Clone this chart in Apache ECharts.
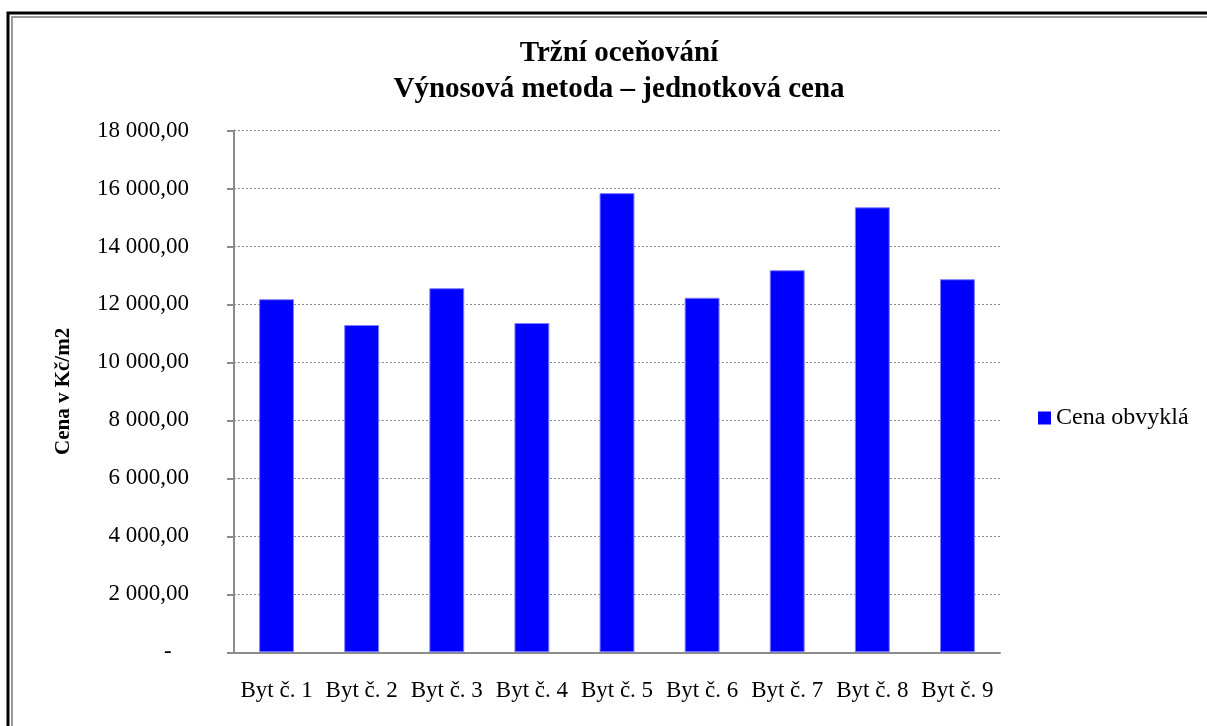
<!DOCTYPE html>
<html>
<head>
<meta charset="utf-8">
<script src="https://cdn.jsdelivr.net/npm/echarts@6/dist/echarts.min.js"></script>
<style>
html,body{margin:0;padding:0;background:#fff;}
#chart{width:1207px;height:726px;}
</style>
</head>
<body>
<div id="chart"></div>
<script>
var categories = ['Byt č. 1','Byt č. 2','Byt č. 3','Byt č. 4','Byt č. 5','Byt č. 6','Byt č. 7','Byt č. 8','Byt č. 9'];
var seriesName = 'Cena obvyklá';
var values = [12180, 11290, 12560, 11360, 15840, 12230, 13180, 15350, 12870];
var titleLines = ['Tržní oceňování', 'Výnosová metoda – jednotková cena'];
var yAxisName = 'Cena v Kč/m2';
var yMin = 0, yMax = 18000, yStep = 2000;

function fmt(v){
  if (v === 0) return '-   ';
  var s = Math.round(v).toString().replace(/\B(?=(\d{3})+(?!\d))/g, ' ');
  return s + ',00';
}

var font = 'Liberation Serif, Times New Roman, serif';
var chart = echarts.init(document.getElementById('chart'), null, {renderer:'canvas'});
chart.setOption({
  backgroundColor: '#fff',
  animation: false,
  textStyle: {fontFamily: font},
  title: {
    text: titleLines.join('\n'),
    left: 614, top: 31, textAlign: 'center',
    textStyle: {fontFamily: font, fontSize: 29, fontWeight: 'bold', color: '#000', lineHeight: 36}
  },
  legend: {
    left: 1038, top: 406, padding: 0,
    itemWidth: 13, itemHeight: 13,
    icon: 'rect',
    itemStyle: {borderWidth: 0},
    textStyle: {fontFamily: font, fontSize: 24, color: '#000'},
    data: [seriesName]
  },
  grid: {left: 234, right: 207, top: 130.5, bottom: 73.7, containLabel: false},
  xAxis: {
    type: 'category', data: categories,
    axisLine: {show: true, lineStyle: {color: '#8c8c8c', width: 2}},
    axisTick: {show: false},
    axisLabel: {fontFamily: font, fontSize: 23, color: '#000', margin: 27, interval: 0}
  },
  yAxis: {
    type: 'value', min: yMin, max: yMax, interval: yStep,
    name: yAxisName, nameLocation: 'middle', nameGap: 160, nameRotate: 90,
    nameTextStyle: {fontFamily: font, fontSize: 21, fontWeight: 'bold', color: '#000'},
    axisLine: {show: true, lineStyle: {color: '#8c8c8c', width: 2}},
    axisTick: {show: true, length: 7, lineStyle: {color: '#8c8c8c', width: 2}},
    axisLabel: {fontFamily: font, fontSize: 23, color: '#000', margin: 45, formatter: fmt},
    splitLine: {show: true, lineStyle: {color: '#8c8c8c', type: [2,2], width: 1}}
  },
  series: [{
    name: seriesName, type: 'bar', data: values,
    barWidth: '41%',
    itemStyle: {color: '#0000ff', borderColor: '#7f7fff', borderWidth: 1}
  }],
  graphic: [
    {type: 'rect', shape: {x: 8, y: 13, width: 1300, height: 800}, style: {fill: 'none', stroke: '#000', lineWidth: 3}, silent: true},
    {type: 'rect', shape: {x: 12, y: 17, width: 1300, height: 800}, style: {fill: 'none', stroke: '#999', lineWidth: 2}, silent: true}
  ]
});
</script>
</body>
</html>
